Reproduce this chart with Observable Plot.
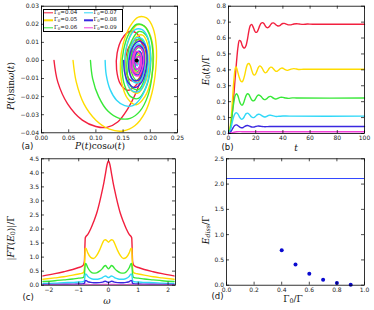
<!DOCTYPE html>
<html><head><meta charset="utf-8">
<script src="https://cdn.jsdelivr.net/npm/d3@7"></script>
<script src="https://cdn.jsdelivr.net/npm/@observablehq/plot@0.6"></script>
<style>
body{margin:0;background:#fff;}
#root{position:relative;width:374px;height:310px;overflow:hidden;font-family:"DejaVu Sans";}
.panel{position:absolute;}
.m{position:absolute;font-family:"DejaVu Serif";font-size:9px;white-space:nowrap;color:#111;transform:translate(-50%,-50%);line-height:1;}
.m i{font-style:italic;}
.m sub{font-size:0.7em;vertical-align:-0.25em;line-height:0;}
.rot{transform:translate(-50%,-50%) rotate(-90deg);}
.tag{position:absolute;font-family:"DejaVu Sans";font-size:8.5px;color:#111;transform:translateY(-50%);line-height:1;}
.leg{position:absolute;left:42.5px;top:8.5px;width:80px;height:23px;border:0.8px solid #000;background:#fff;box-sizing:border-box;}
.li{position:absolute;font-size:5.5px;font-family:"DejaVu Sans";color:#111;white-space:nowrap;transform:translateY(-50%);line-height:1;}
.li .g{font-family:"DejaVu Serif";}
.li sub{font-size:0.7em;vertical-align:-0.2em;line-height:0;}
.ls{position:absolute;height:1.4px;width:9px;transform:translateY(-50%);}
</style></head><body><div id="root"></div>
<script>
// ---------------- data ----------------
const gammaLabels = ["0.04","0.05","0.06","0.07","0.08","0.09"];
const colors = ["#f2203f","#ffdc00","#38e838","#30d8f8","#3a28e0","#f040d8"];

// (a) phase-space trajectories [P cos w, P sin w]
const phaseRed = [[0.023,0.000],[0.030,-0.012],[0.048,-0.024],[0.075,-0.033],[0.100,-0.0365],[0.120,-0.037],[0.140,-0.034],[0.158,-0.027],[0.172,-0.019],[0.183,-0.010],[0.188,0.000],[0.185,0.009],[0.175,0.015],[0.162,0.016],[0.148,0.012],[0.139,0.004],[0.138,-0.005],[0.145,-0.013],[0.158,-0.0165],[0.173,-0.014],[0.186,-0.007],[0.192,0.001],[0.188,0.008],[0.177,0.0115],[0.164,0.009],[0.155,0.002],[0.155,-0.006],[0.164,-0.011],[0.176,-0.011],[0.186,-0.005],[0.188,0.002],[0.182,0.007],[0.172,0.007],[0.165,0.002],[0.166,-0.004],[0.174,-0.007],[0.182,-0.004],[0.184,0.001],[0.179,0.004],[0.173,0.002],[0.174,-0.002],[0.177,0.000]];
const phaseYellow = [[0.058,0.000],[0.064,-0.012],[0.078,-0.024],[0.100,-0.033],[0.125,-0.038],[0.150,-0.039],[0.172,-0.036],[0.190,-0.029],[0.203,-0.018],[0.210,-0.005],[0.211,0.008],[0.205,0.018],[0.193,0.0235],[0.178,0.024],[0.163,0.019],[0.150,0.009],[0.145,-0.002],[0.148,-0.013],[0.158,-0.021],[0.174,-0.0245],[0.190,-0.020],[0.202,-0.010],[0.206,0.002],[0.201,0.013],[0.189,0.019],[0.175,0.0195],[0.162,0.013],[0.154,0.003],[0.155,-0.008],[0.163,-0.016],[0.177,-0.018],[0.191,-0.012],[0.198,-0.002],[0.196,0.008],[0.186,0.014],[0.174,0.013],[0.164,0.006],[0.162,-0.004],[0.168,-0.011],[0.179,-0.012],[0.189,-0.006],[0.191,0.002],[0.185,0.008],[0.175,0.008],[0.169,0.002],[0.170,-0.005],[0.178,-0.007],[0.185,-0.003],[0.184,0.003],[0.177,0.004],[0.174,0.000],[0.177,-0.002]];
const phaseGreen = [[0.090,0.000],[0.094,-0.010],[0.105,-0.020],[0.122,-0.028],[0.143,-0.032],[0.163,-0.032],[0.181,-0.028],[0.195,-0.020],[0.203,-0.009],[0.205,0.003],[0.200,0.013],[0.189,0.019],[0.175,0.020],[0.161,0.015],[0.151,0.006],[0.148,-0.004],[0.153,-0.014],[0.164,-0.020],[0.178,-0.021],[0.192,-0.015],[0.200,-0.005],[0.200,0.006],[0.192,0.014],[0.179,0.016],[0.166,0.011],[0.158,0.002],[0.158,-0.008],[0.166,-0.015],[0.179,-0.016],[0.190,-0.010],[0.195,-0.001],[0.191,0.008],[0.181,0.012],[0.170,0.009],[0.164,0.001],[0.166,-0.007],[0.175,-0.011],[0.185,-0.008],[0.189,-0.001],[0.185,0.006],[0.177,0.007],[0.170,0.003],[0.170,-0.004],[0.177,-0.006],[0.183,-0.002],[0.180,0.003],[0.175,0.001]];
const phaseCyan = [[0.117,0.000],[0.119,-0.008],[0.126,-0.016],[0.138,-0.022],[0.153,-0.025],[0.168,-0.025],[0.182,-0.021],[0.193,-0.014],[0.199,-0.005],[0.200,0.005],[0.195,0.013],[0.185,0.017],[0.172,0.017],[0.161,0.012],[0.154,0.004],[0.153,-0.005],[0.158,-0.013],[0.168,-0.017],[0.180,-0.017],[0.191,-0.011],[0.196,-0.002],[0.193,0.007],[0.185,0.012],[0.174,0.0125],[0.165,0.008],[0.160,0.000],[0.162,-0.007],[0.170,-0.012],[0.180,-0.012],[0.188,-0.006],[0.190,0.002],[0.185,0.008],[0.176,0.009],[0.168,0.004],[0.167,-0.003],[0.173,-0.008],[0.181,-0.007],[0.185,-0.001],[0.181,0.005],[0.175,0.004],[0.172,0.000],[0.176,-0.003],[0.179,0.000]];
const phaseBlue = [[0.151,0.000],[0.153,-0.007],[0.160,-0.0125],[0.172,-0.015],[0.184,-0.012],[0.192,-0.005],[0.194,0.003],[0.189,0.009],[0.178,0.0105],[0.167,0.007],[0.161,0.000],[0.162,-0.007],[0.170,-0.011],[0.180,-0.0105],[0.187,-0.005],[0.189,0.002],[0.185,0.007],[0.177,0.008],[0.169,0.004],[0.166,-0.002],[0.170,-0.007],[0.178,-0.008],[0.184,-0.004],[0.185,0.002],[0.180,0.005],[0.174,0.004],[0.171,-0.001],[0.175,-0.005],[0.181,-0.003],[0.181,0.002],[0.177,0.002]];
const phaseMagenta = [[0.163,0.000],[0.165,-0.005],[0.171,-0.008],[0.178,-0.0085],[0.185,-0.005],[0.188,0.001],[0.185,0.006],[0.178,0.0075],[0.171,0.005],[0.167,0.000],[0.168,-0.005],[0.174,-0.007],[0.181,-0.005],[0.184,0.000],[0.181,0.004],[0.175,0.005],[0.170,0.002],[0.171,-0.003],[0.176,-0.005],[0.181,-0.002],[0.180,0.002],[0.176,0.002],[0.174,-0.001],[0.177,-0.002]];
const fixedPoint = [[0.175,0.000]];

// (b) E0(t)/Gamma  [t, value]
const evoRed = [[0,0],[1,0.02],[2,0.07],[3,0.15],[4,0.25],[5,0.36],[6,0.46],[7,0.545],[8,0.585],[9,0.58],[10,0.555],[11,0.54],[12,0.538],[13,0.555],[14,0.595],[15,0.645],[16,0.678],[17,0.686],[18,0.672],[19,0.65],[20,0.636],[21,0.638],[22,0.655],[23,0.678],[24,0.693],[25,0.697],[26,0.691],[27,0.677],[28,0.667],[29,0.665],[30,0.672],[31,0.684],[32,0.693],[33,0.695],[34,0.69],[35,0.682],[36,0.677],[37,0.676],[38,0.68],[39,0.687],[40,0.691],[41,0.692],[42,0.689],[44,0.683],[46,0.683],[48,0.688],[50,0.69],[52,0.688],[55,0.686],[58,0.688],[62,0.687],[100,0.687]];
const evoYellow = [[0,0],[1,0.03],[2,0.1],[3,0.22],[4,0.34],[5,0.41],[5.5,0.418],[6,0.412],[7,0.38],[8,0.35],[9,0.33],[10,0.325],[11,0.34],[12,0.37],[13,0.41],[14,0.435],[15,0.44],[16,0.427],[17,0.4],[18,0.375],[19,0.367],[20,0.375],[21,0.395],[22,0.415],[23,0.425],[24,0.42],[25,0.407],[26,0.39],[27,0.381],[28,0.385],[29,0.397],[30,0.41],[31,0.417],[32,0.415],[33,0.407],[34,0.397],[35,0.391],[36,0.392],[37,0.399],[38,0.407],[39,0.411],[40,0.41],[41,0.405],[42,0.4],[43,0.397],[44,0.398],[46,0.405],[48,0.408],[50,0.405],[52,0.402],[55,0.404],[60,0.404],[100,0.404]];
const evoGreen = [[0,0],[1,0.02],[2,0.07],[3,0.14],[4,0.2],[5,0.24],[6,0.25],[7,0.235],[8,0.205],[9,0.185],[10,0.178],[11,0.19],[12,0.215],[13,0.24],[14,0.25],[15,0.245],[16,0.228],[17,0.212],[18,0.205],[19,0.208],[20,0.22],[21,0.235],[22,0.242],[23,0.24],[24,0.232],[25,0.222],[26,0.214],[27,0.213],[28,0.218],[29,0.226],[30,0.232],[31,0.233],[32,0.229],[33,0.222],[34,0.218],[35,0.217],[36,0.22],[38,0.227],[40,0.227],[42,0.223],[44,0.221],[47,0.224],[50,0.223],[100,0.223]];
const evoCyan = [[0,0],[1,0.01],[2,0.04],[3,0.08],[4,0.11],[5,0.127],[6,0.13],[7,0.122],[8,0.105],[9,0.093],[10,0.09],[11,0.097],[12,0.112],[13,0.125],[14,0.128],[15,0.123],[16,0.113],[17,0.104],[18,0.1],[19,0.102],[20,0.109],[21,0.117],[22,0.121],[23,0.12],[24,0.115],[25,0.109],[26,0.105],[27,0.104],[28,0.107],[29,0.112],[30,0.115],[31,0.115],[33,0.111],[35,0.107],[37,0.108],[40,0.11],[45,0.109],[100,0.109]];
const evoBlue = [[0,0],[1,0.005],[2,0.015],[3,0.03],[4,0.045],[5,0.053],[6,0.054],[7,0.049],[8,0.042],[9,0.037],[10,0.036],[11,0.039],[12,0.045],[13,0.049],[14,0.05],[15,0.048],[16,0.044],[17,0.041],[18,0.04],[19,0.041],[20,0.044],[21,0.046],[22,0.047],[24,0.045],[26,0.043],[28,0.043],[30,0.044],[35,0.044],[100,0.044]];
const evoMagenta = [[0,0],[2,0.003],[4,0.008],[6,0.011],[8,0.012],[10,0.011],[14,0.011],[100,0.011]];

// (c) |FT(E0)|/Gamma vs omega
const omega = [-2.2,-1.8,-1.5,-1.2,-1.0,-0.9,-0.84,-0.81,-0.78,-0.76,-0.7,-0.6,-0.5,-0.4,-0.3,-0.2,-0.15,-0.1,-0.05,0,0.05,0.1,0.15,0.2,0.3,0.4,0.5,0.6,0.7,0.76,0.78,0.81,0.84,0.9,1.0,1.2,1.5,1.8,2.2];
const ftRed = [0.33,0.41,0.48,0.56,0.63,0.67,0.72,0.85,1.68,1.73,1.8,2.0,2.26,2.55,2.95,3.42,3.68,3.98,4.28,4.42,4.28,3.98,3.68,3.42,2.95,2.55,2.26,2.0,1.8,1.73,1.68,0.85,0.72,0.67,0.63,0.56,0.48,0.41,0.33];
const ftYellow = [0.21,0.26,0.3,0.36,0.4,0.42,0.45,0.6,1.3,1.32,1.16,0.99,0.95,1.05,1.25,1.5,1.6,1.62,1.58,1.53,1.58,1.62,1.6,1.5,1.25,1.05,0.95,0.99,1.16,1.32,1.3,0.6,0.45,0.42,0.4,0.36,0.3,0.26,0.21];
const ftGreen = [0.13,0.16,0.19,0.22,0.25,0.26,0.28,0.38,0.74,0.77,0.63,0.48,0.43,0.44,0.5,0.6,0.67,0.7,0.64,0.58,0.64,0.7,0.67,0.6,0.5,0.44,0.43,0.48,0.63,0.77,0.74,0.38,0.28,0.26,0.25,0.22,0.19,0.16,0.13];
const ftCyan = [0.065,0.075,0.09,0.1,0.115,0.12,0.13,0.17,0.38,0.4,0.32,0.24,0.21,0.21,0.23,0.27,0.31,0.33,0.3,0.27,0.3,0.33,0.31,0.27,0.23,0.21,0.21,0.24,0.32,0.4,0.38,0.17,0.13,0.12,0.115,0.1,0.09,0.075,0.065];
const ftBlue = [0.024,0.028,0.033,0.038,0.042,0.045,0.05,0.07,0.16,0.17,0.13,0.1,0.085,0.085,0.09,0.11,0.13,0.14,0.12,0.1,0.12,0.14,0.13,0.11,0.09,0.085,0.085,0.1,0.13,0.17,0.16,0.07,0.05,0.045,0.042,0.038,0.033,0.028,0.024];
const ftMagenta = [0.005,0.006,0.007,0.008,0.009,0.009,0.01,0.013,0.032,0.034,0.026,0.021,0.019,0.019,0.02,0.024,0.028,0.03,0.028,0.025,0.028,0.03,0.028,0.024,0.02,0.019,0.019,0.021,0.026,0.034,0.032,0.013,0.01,0.009,0.009,0.008,0.007,0.006,0.005];

// (d) E_diss/Gamma vs Gamma0/Gamma
const gammaRatio = [0.4,0.5,0.6,0.7,0.8,0.9];
const eDiss = [0.69,0.41,0.225,0.11,0.045,0.01];
const eLevel = [2.11];

// ticks
const ticksAx = [0,0.05,0.1,0.15,0.2,0.25], ticksAy = [-0.04,-0.03,-0.02,-0.01,0,0.01,0.02,0.03];
const ticksBx = [0,20,40,60,80,100], ticksBy = [0,0.1,0.2,0.3,0.4,0.5,0.6,0.7,0.8];
const ticksCx = [-2,-1,0,1,2], ticksCy = [0,0.5,1,1.5,2,2.5,3,3.5,4,4.5];
const ticksDx = [0,0.2,0.4,0.6,0.8,1.0], ticksDy = [0,0.5,1,1.5,2,2.5];

// ---------------- drawing ----------------
const root = document.getElementById("root");
function axes(p, xt, yt, xf, yf) {
  const iw = p.width - p.marginLeft - p.marginRight;
  const ih = p.height - p.marginTop - p.marginBottom;
  const L = 3, tk = {stroke:"#000", strokeWidth:0.7};
  return [
    Plot.tickX(xt, {x:d=>d, insetTop: ih-L, ...tk}),
    Plot.tickX(xt, {x:d=>d, insetBottom: ih-L, ...tk}),
    Plot.tickY(yt, {y:d=>d, insetRight: iw-L, ...tk}),
    Plot.tickY(yt, {y:d=>d, insetLeft: iw-L, ...tk}),
    Plot.axisX(xt, {tickSize:0, tickPadding:2.5, tickFormat:xf, label:null, fill:"#222"}),
    Plot.axisY(yt, {tickSize:0, tickPadding:2.5, tickFormat:yf, label:null, fill:"#222"}),
    Plot.frame({stroke:"#000", strokeWidth:0.8})
  ];
}
function panel(left, top, p, xs, ys, xt, yt, xf, yf, marks) {
  const el = Plot.plot({
    ...p,
    style:{fontFamily:"DejaVu Sans", fontSize:"6px", background:"transparent", overflow:"visible"},
    x:{...xs}, y:{...ys},
    marks:[...marks, ...axes(p, xt, yt, xf, yf)]
  });
  const d = document.createElement("div");
  d.className = "panel"; d.style.left = left+"px"; d.style.top = top+"px";
  d.appendChild(el); root.appendChild(d);
}
const f2 = d3.format(".2f"), f1 = d3.format(".1f"), fi = d3.format("d");
const LW = 1.4;

// (a)
const phases = [phaseRed, phaseYellow, phaseGreen, phaseCyan, phaseBlue, phaseMagenta];
panel(0, 0, {width:187, height:155, marginLeft:41, marginRight:10, marginTop:5.7, marginBottom:22.7},
  {domain:[0,0.25]}, {domain:[-0.04,0.03]}, ticksAx, ticksAy, f2, f2,
  [...phases.map((s,i)=>Plot.line(s, {x:d=>d[0], y:d=>d[1], stroke:colors[i], strokeWidth:LW, curve:"catmull-rom"})),
   Plot.dot(fixedPoint, {x:d=>d[0], y:d=>d[1], r:2, fill:"#000"})]);

// (b)
const evos = [evoRed, evoYellow, evoGreen, evoCyan, evoBlue, evoMagenta];
panel(187, 0, {width:187, height:155, marginLeft:41, marginRight:10, marginTop:5.7, marginBottom:22},
  {domain:[0,100]}, {domain:[0,0.8]}, ticksBx, ticksBy, fi, f1,
  evos.map((s,i)=>Plot.line(s, {x:d=>d[0], y:d=>d[1], stroke:colors[i], strokeWidth:LW, curve:"catmull-rom"})));

// (c)
const fts = [ftRed, ftYellow, ftGreen, ftCyan, ftBlue, ftMagenta];
panel(0, 155, {width:187, height:155, marginLeft:41, marginRight:12, marginTop:3.3, marginBottom:25.3},
  {domain:[-2.25,2.25]}, {domain:[0,4.5]}, ticksCx, ticksCy, fi, f1,
  fts.map((s,i)=>Plot.line(s, {x:(d,j)=>omega[j], y:d=>d, stroke:colors[i], strokeWidth:LW, curve:"monotone-x", clip:true})));

// (d)
panel(187, 155, {width:187, height:155, marginLeft:39, marginRight:10, marginTop:3.3, marginBottom:25.3},
  {domain:[0,1]}, {domain:[0,2.5]}, ticksDx, ticksDy, f1, f1,
  [Plot.ruleY(eLevel, {stroke:"#3046ff", strokeWidth:1}),
   Plot.dot(eDiss, {x:(d,j)=>gammaRatio[j], y:d=>d, r:2, fill:"#0a0ad0", stroke:"none"})]);

// labels (text)
function add(html, cls, x, y) {
  const e = document.createElement("div"); e.className = cls; e.innerHTML = html;
  e.style.left = x+"px"; e.style.top = y+"px"; root.appendChild(e);
}
add('<i>P</i>(<i>t</i>)cos<i>ω</i>(<i>t</i>)', "m", 100, 146);
add('<i>t</i>', "m", 296, 147.5);
add('<i>ω</i>', "m", 107, 301);
add('Γ<sub>0</sub>/Γ', "m", 293, 298.5);
add('<i>P</i>(<i>t</i>)sin<i>ω</i>(<i>t</i>)', "m rot", 10.5, 86);
add('<i>E</i><sub>0</sub>(<i>t</i>)/Γ', "m rot", 206, 70);
add('|<i>FT</i>(<i>E</i><sub>0</sub>)|/Γ', "m rot", 10.5, 238);
add('<i>E</i><sub><i>diss</i></sub>/Γ', "m rot", 206, 230);
add('(a)', "tag", 21.5, 146);
add('(b)', "tag", 221.5, 146.5);
add('(c)', "tag", 22.5, 296.5);
add('(d)', "tag", 211.5, 296);

// legend
const leg = document.createElement("div"); leg.className = "leg"; root.appendChild(leg);
const rowsY = [13, 20.3, 27.6], colX = [[44, 54], [83.5, 93.5]];
gammaLabels.forEach((g, i) => {
  const c = Math.floor(i/3), r = i%3;
  const s = document.createElement("div"); s.className = "ls";
  s.style.left = colX[c][0]+"px"; s.style.top = rowsY[r]+"px"; s.style.background = colors[i];
  root.appendChild(s);
  add('<span class="g">Γ<sub>0</sub></span>=' + g, "li", colX[c][1], rowsY[r]);
});
</script></body></html>
